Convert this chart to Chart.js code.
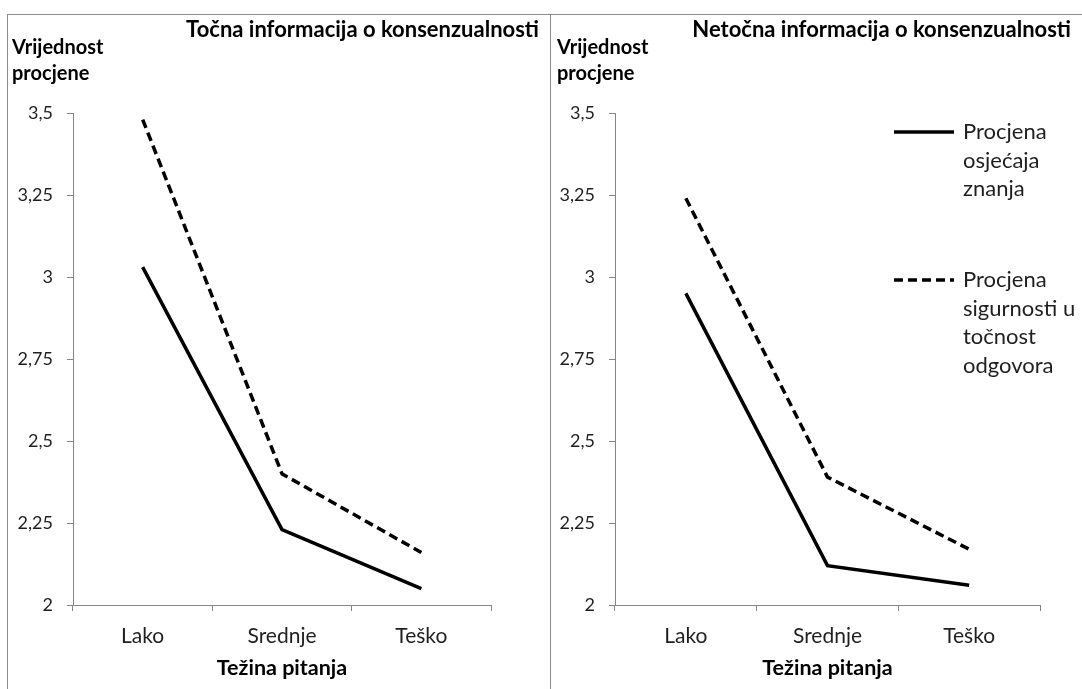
<!DOCTYPE html>
<html><head><meta charset="utf-8">
<script src="https://cdn.jsdelivr.net/npm/chart.js@4"></script>
<style>
html,body{margin:0;padding:0;background:#fff;width:1082px;height:689px;overflow:hidden;}
#frame{position:absolute;left:7px;top:14px;width:1100px;height:700px;border-top:1px solid #8c8c8c;border-left:1px solid #8c8c8c;}
#divider{position:absolute;left:550px;top:14px;width:1px;height:700px;background:#8c8c8c;}
.c{position:absolute;top:15px;height:674px;}
</style></head>
<body>
<div id="frame"></div><div id="divider"></div>
<div class="c" style="left:8px;width:542px;"><canvas id="c1"></canvas></div>
<div class="c" style="left:551px;width:531px;"><canvas id="c2"></canvas></div>
<script>
const categories = ['Lako', 'Srednje', 'Teško'];
const tocnaOsjecaj = [3.03, 2.23, 2.05];
const tocnaSigurnost = [3.48, 2.40, 2.16];
const netocnaOsjecaj = [2.95, 2.12, 2.06];
const netocnaSigurnost = [3.24, 2.39, 2.17];
const yTicks = [2, 2.25, 2.5, 2.75, 3, 3.25, 3.5];
const seriesLabels = ['Procjena osjećaja znanja', 'Procjena sigurnosti u točnost odgovora'];
const legendLines = [['Procjena', 'osjećaja', 'znanja'], ['Procjena', 'sigurnosti u', 'točnost', 'odgovora']];
const panelTitles = ['Točna informacija o konsenzualnosti', 'Netočna informacija o konsenzualnosti'];
const yTitleLines = ['Vrijednost', 'procjene'];
const xTitle = 'Težina pitanja';

const FONT = 'Lato, "Liberation Sans", Arial, sans-serif';
const AXIS = '#868686';
const TXT = '#1f1f1f';
const DASH = [9, 5];

const textPlugin = {
  id: 'texts',
  afterDraw(chart, args, o) {
    const ctx = chart.ctx;
    ctx.save();
    ctx.fillStyle = '#000';
    ctx.textBaseline = 'middle';
    ctx.font = 'bold 22px ' + FONT;
    ctx.textAlign = 'right';
    ctx.fillText(o.title, chart.width - 11, 15);
    ctx.font = 'bold 20px ' + FONT;
    ctx.textAlign = 'left';
    yTitleLines.forEach((t, i) => ctx.fillText(t, o.yTitleX, 33 + i * 26));
    if (o.legend) {
      const ca = chart.chartArea;
      const ds = chart.data.datasets;
      const groupsY = [ca.top + 19, ca.top + 167];
      ds.forEach((d, k) => {
        const y = groupsY[k];
        ctx.beginPath();
        ctx.strokeStyle = d.borderColor;
        ctx.lineWidth = d.borderWidth;
        ctx.setLineDash(d.borderDash || []);
        ctx.moveTo(ca.right - 146, y);
        ctx.lineTo(ca.right - 86, y);
        ctx.stroke();
        ctx.setLineDash([]);
        ctx.font = '22px ' + FONT;
        ctx.fillStyle = TXT;
        ctx.textAlign = 'left';
        legendLines[k].forEach((t, i) => ctx.fillText(t, ca.right - 77, y + i * 28.5));
      });
    }
    ctx.restore();
  }
};

function makeChart(id, solid, dashed, title, rightPad, yWidth, yTitleX, legend) {
  return new Chart(document.getElementById(id), {
    type: 'line',
    data: {
      labels: categories,
      datasets: [
        { label: seriesLabels[0], data: solid, borderColor: '#000', borderWidth: 3.5, pointRadius: 0, tension: 0, fill: false },
        { label: seriesLabels[1], data: dashed, borderColor: '#000', borderWidth: 3.5, borderDash: DASH, pointRadius: 0, tension: 0, fill: false }
      ]
    },
    options: {
      responsive: true,
      maintainAspectRatio: false,
      animation: false,
      layout: { padding: { top: 98, right: rightPad, left: 0, bottom: 0 } },
      plugins: {
        legend: { display: false },
        tooltip: { enabled: false },
        texts: { title: title, yTitleX: yTitleX, legend: legend }
      },
      scales: {
        x: {
          type: 'category',
          offset: true,
          grid: { offset: true, drawOnChartArea: false, tickLength: 6, color: AXIS },
          border: { color: AXIS, width: 1 },
          ticks: { padding: 13, color: TXT, font: { family: FONT, size: 21 } },
          title: { display: true, text: xTitle, color: '#000', font: { family: FONT, size: 21.5, weight: 'bold' }, padding: { top: 0, bottom: 8 } },
          afterFit: s => { s.height = 84; }
        },
        y: {
          min: 2, max: 3.5,
          afterBuildTicks: s => { s.ticks = yTicks.map(v => ({ value: v })); },
          grid: { drawOnChartArea: false, tickLength: 6, color: AXIS },
          border: { color: AXIS, width: 1 },
          ticks: { padding: 14, color: TXT, font: { family: FONT, size: 18 },
            callback: v => String(v).replace('.', ',') },
          afterFit: s => { s.width = yWidth; }
        }
      }
    },
    plugins: [textPlugin]
  });
}

makeChart('c1', tocnaOsjecaj, tocnaSigurnost, panelTitles[0], 59, 65, 4, false);
makeChart('c2', netocnaOsjecaj, netocnaSigurnost, panelTitles[1], 42, 64, 6, true);
</script>
</body></html>
